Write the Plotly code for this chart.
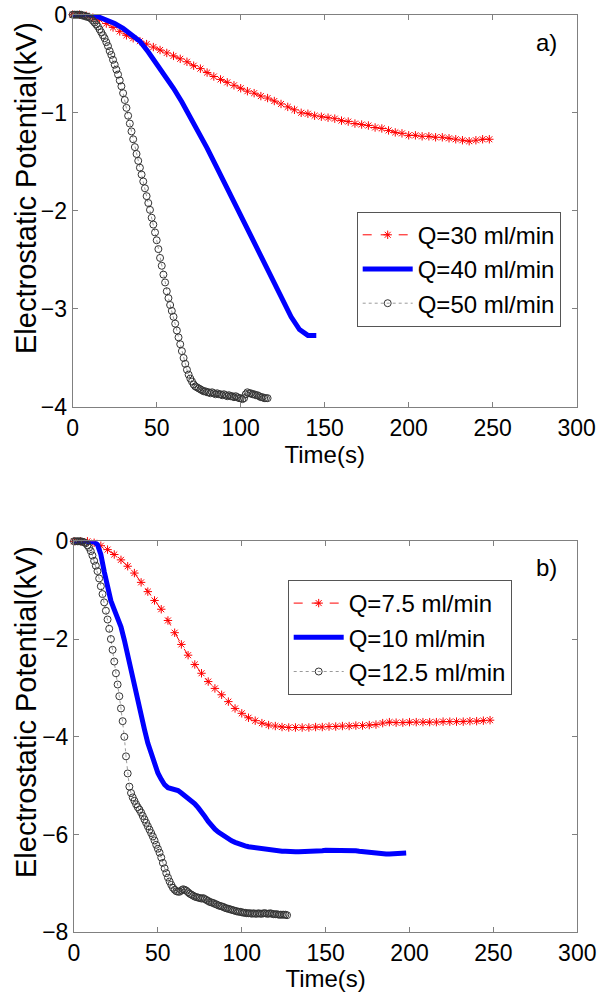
import plotly.graph_objects as go

# ---------------- panel a) ----------------
t_a30 = list(range(0, 249, 4))
v_a30 = [0, 0, -0.01, -0.03, -0.05, -0.09, -0.13, -0.17, -0.21, -0.24,
         -0.27, -0.30, -0.33, -0.36, -0.39, -0.42, -0.45, -0.48, -0.52, -0.55,
         -0.59, -0.63, -0.66, -0.69, -0.72, -0.75, -0.78, -0.80, -0.83, -0.85,
         -0.88, -0.91, -0.94, -0.97, -1.00, -1.01, -1.03, -1.04, -1.05, -1.06,
         -1.08, -1.09, -1.11, -1.12, -1.13, -1.15, -1.16, -1.18, -1.20, -1.21,
         -1.23, -1.23, -1.24, -1.24, -1.25, -1.25, -1.26, -1.27, -1.28, -1.29,
         -1.28, -1.27, -1.27]

t_a40 = list(range(0, 146, 5))
v_a40 = [0, 0, 0, -0.02, -0.05, -0.09, -0.14, -0.20, -0.27, -0.38,
         -0.50, -0.62, -0.75, -0.89, -1.04, -1.19, -1.36, -1.53, -1.70, -1.87,
         -2.04, -2.21, -2.38, -2.55, -2.73, -2.91, -3.08, -3.21, -3.27, -3.27]

t_a50 = list(range(0, 117))
v_a50 = [0, 0, 0, 0, 0, 0, -0.01, -0.01, -0.02, -0.02,
         -0.03, -0.04, -0.06, -0.08, -0.10, -0.12, -0.15, -0.18, -0.21, -0.24,
         -0.28, -0.32, -0.37, -0.41, -0.46, -0.51, -0.56, -0.61, -0.67, -0.73,
         -0.80, -0.87, -0.95, -1.03, -1.11, -1.19, -1.27, -1.35, -1.42, -1.49,
         -1.56, -1.63, -1.70, -1.77, -1.85, -1.92, -1.99, -2.07, -2.14, -2.22,
         -2.30, -2.39, -2.48, -2.56, -2.65, -2.73, -2.82, -2.89, -2.96, -3.02,
         -3.08, -3.15, -3.22, -3.29, -3.36, -3.43, -3.50, -3.56, -3.62, -3.67,
         -3.71, -3.74, -3.77, -3.79, -3.80, -3.81, -3.82, -3.83, -3.84, -3.84,
         -3.85, -3.85, -3.86, -3.85, -3.86, -3.87, -3.86, -3.87, -3.87, -3.88,
         -3.87, -3.88, -3.89, -3.88, -3.89, -3.89, -3.90, -3.89, -3.90, -3.91,
         -3.91, -3.92, -3.91, -3.87, -3.85, -3.86, -3.86, -3.87, -3.87, -3.88,
         -3.88, -3.89, -3.90, -3.90, -3.91, -3.91, -3.91]

# ---------------- panel b) ----------------
t_b75 = list(range(0, 249, 4))
v_b75 = [0, 0, 0, -0.03, -0.09, -0.17, -0.27, -0.38, -0.51, -0.65,
         -0.84, -1.03, -1.21, -1.39, -1.62, -1.87, -2.11, -2.33, -2.52, -2.70,
         -2.87, -3.01, -3.14, -3.28, -3.42, -3.52, -3.61, -3.67, -3.72, -3.76,
         -3.78, -3.80, -3.81, -3.81, -3.81, -3.81, -3.80, -3.80, -3.79, -3.79,
         -3.78, -3.78, -3.77, -3.77, -3.76, -3.75, -3.72, -3.70, -3.71, -3.71,
         -3.70, -3.70, -3.70, -3.70, -3.70, -3.69, -3.69, -3.69, -3.69, -3.68,
         -3.68, -3.67, -3.66]

t_b10 = list(range(0, 199, 2))
v_b10 = [0, 0, 0, 0, 0, 0, -0.01, -0.07, -0.27, -0.62,
         -0.97, -1.22, -1.40, -1.57, -1.75, -2.02, -2.34, -2.64, -2.91, -3.18,
         -3.50, -3.85, -4.13, -4.36, -4.57, -4.74, -4.87, -4.98, -5.04, -5.06,
         -5.08, -5.10, -5.15, -5.20, -5.25, -5.30, -5.37, -5.45, -5.53, -5.63,
         -5.73, -5.82, -5.89, -5.95, -6.00, -6.05, -6.09, -6.13, -6.16, -6.19,
         -6.21, -6.23, -6.25, -6.26, -6.28, -6.29, -6.30, -6.30, -6.31, -6.32,
         -6.33, -6.33, -6.34, -6.34, -6.35, -6.35, -6.35, -6.35, -6.35, -6.34,
         -6.34, -6.34, -6.33, -6.33, -6.33, -6.32, -6.32, -6.31, -6.31, -6.31,
         -6.31, -6.32, -6.32, -6.33, -6.33, -6.34, -6.35, -6.35, -6.36, -6.37,
         -6.38, -6.39, -6.40, -6.40, -6.40, -6.40, -6.39, -6.39, -6.38, -6.38]

t_b125 = list(range(0, 128))
v_b125 = [0, 0, 0, 0, 0, -0.01, -0.02, -0.04, -0.08, -0.13,
          -0.20, -0.29, -0.40, -0.50, -0.61, -0.76, -0.92, -1.08, -1.25, -1.42,
          -1.60, -1.79, -2.00, -2.22, -2.46, -2.70, -2.93, -3.17, -3.42, -3.68,
          -4.00, -4.40, -4.75, -5.02, -5.15, -5.24, -5.31, -5.38, -5.44, -5.49,
          -5.55, -5.62, -5.69, -5.76, -5.83, -5.90, -5.97, -6.04, -6.12, -6.21,
          -6.29, -6.37, -6.47, -6.58, -6.69, -6.79, -6.88, -6.96, -7.03, -7.09,
          -7.13, -7.16, -7.17, -7.17, -7.14, -7.12, -7.13, -7.15, -7.18, -7.21,
          -7.23, -7.25, -7.27, -7.28, -7.29, -7.30, -7.31, -7.30, -7.32, -7.34,
          -7.36, -7.38, -7.39, -7.40, -7.42, -7.43, -7.45, -7.46, -7.47, -7.48,
          -7.50, -7.51, -7.52, -7.53, -7.54, -7.55, -7.56, -7.57, -7.58, -7.58,
          -7.59, -7.60, -7.60, -7.61, -7.61, -7.61, -7.62, -7.61, -7.62, -7.62,
          -7.61, -7.62, -7.62, -7.61, -7.61, -7.62, -7.62, -7.61, -7.62, -7.63,
          -7.63, -7.63, -7.64, -7.64, -7.64, -7.64, -7.64, -7.65]

names_a = ["Q=30 ml/min", "Q=40 ml/min", "Q=50 ml/min"]
names_b = ["Q=7.5 ml/min", "Q=10 ml/min", "Q=12.5 ml/min"]
panel_labels = ["a)", "b)"]
x_label = "Time(s)"
y_label = "Electrostatic Potential(kV)"

FONT = "Liberation Sans, Arial, Helvetica, sans-serif"
RED = "#ff0000"
BLUE = "#0000ff"
GRAYLINE = "#808080"

fig = go.Figure()


def add_panel(xs, ys, names, xa, ya, leg):
    (t1, t2, t3), (v1, v2, v3) = xs, ys
    fig.add_trace(go.Scatter(
        x=t1, y=v1, name=names[0], mode="lines+markers", xaxis=xa, yaxis=ya,
        legend=leg, cliponaxis=False,
        line=dict(color=RED, width=1, dash="dash"),
        marker=dict(symbol="asterisk-open", size=7, color=RED,
                    line=dict(color=RED, width=1))))
    fig.add_trace(go.Scatter(
        x=t2, y=v2, name=names[1], mode="lines", xaxis=xa, yaxis=ya,
        legend=leg, cliponaxis=False,
        line=dict(color=BLUE, width=5)))
    fig.add_trace(go.Scatter(
        x=t3, y=v3, name=names[2], mode="lines+markers", xaxis=xa, yaxis=ya,
        legend=leg, cliponaxis=False,
        line=dict(color="#9a9a9a", width=1, dash="dot"),
        marker=dict(symbol="circle-open", size=7, color="#333333",
                    line=dict(color="#333333", width=1))))


add_panel((t_a30, t_a40, t_a50), (v_a30, v_a40, v_a50), names_a, "x", "y", "legend")
add_panel((t_b75, t_b10, t_b125), (v_b75, v_b10, v_b125), names_b, "x2", "y2", "legend2")

axis_common = dict(
    showline=True, linecolor=GRAYLINE, linewidth=1, mirror="ticks",
    ticks="inside", ticklen=5, tickcolor=GRAYLINE, showgrid=False,
    zeroline=False, automargin=False,
    tickfont=dict(family=FONT, size=23, color="black"),
)
xtitle = dict(text=x_label, font=dict(family=FONT, size=24, color="black"), standoff=2)

legend_common = dict(
    xanchor="right", yanchor="top", bordercolor="#555555", borderwidth=1,
    bgcolor="white", font=dict(family=FONT, size=24, color="black"),
    itemwidth=50, tracegroupgap=0,
)

txt = dict(family=FONT, size=24, color="black")
annotations = [
    dict(text=panel_labels[0], x=546 / 600, y=1 - 42 / 992, xref="paper", yref="paper",
         xanchor="center", yanchor="middle", showarrow=False, font=txt),
    dict(text=panel_labels[1], x=546 / 600, y=1 - 567 / 992, xref="paper", yref="paper",
         xanchor="center", yanchor="middle", showarrow=False, font=txt),
    dict(text=y_label, x=26 / 600, y=1 - 188 / 992, xref="paper", yref="paper",
         xanchor="center", yanchor="middle", textangle=-90, showarrow=False,
         font=dict(family=FONT, size=29, color="black")),
    dict(text=y_label, x=26 / 600, y=1 - 712 / 992, xref="paper", yref="paper",
         xanchor="center", yanchor="middle", textangle=-90, showarrow=False,
         font=dict(family=FONT, size=29, color="black")),
]

fig.update_layout(
    width=600, height=992,
    margin=dict(l=0, r=0, t=0, b=0, autoexpand=False),
    paper_bgcolor="white", plot_bgcolor="white",
    xaxis=dict(domain=[72.7 / 600, 576.7 / 600], range=[0, 300], dtick=50,
               anchor="y", title=xtitle, **axis_common),
    yaxis=dict(domain=[1 - 407 / 992, 1 - 14.7 / 992], range=[-4, 0], dtick=1,
               anchor="x", **axis_common),
    xaxis2=dict(domain=[74 / 600, 577.3 / 600], range=[0, 300], dtick=50,
                anchor="y2", title=xtitle, **axis_common),
    yaxis2=dict(domain=[1 - 932.3 / 992, 1 - 541.3 / 992], range=[-8, 0], dtick=2,
                anchor="x2", **axis_common),
    legend=dict(x=560.7 / 600, y=1 - 211.7 / 992, **legend_common),
    legend2=dict(x=511.7 / 600, y=1 - 580 / 992, **legend_common),
    annotations=annotations,
)

fig.write_html(
    "out.html",
    config={"displayModeBar": False},
    post_script="document.body.style.margin='0';document.body.style.overflow='hidden';",
)
